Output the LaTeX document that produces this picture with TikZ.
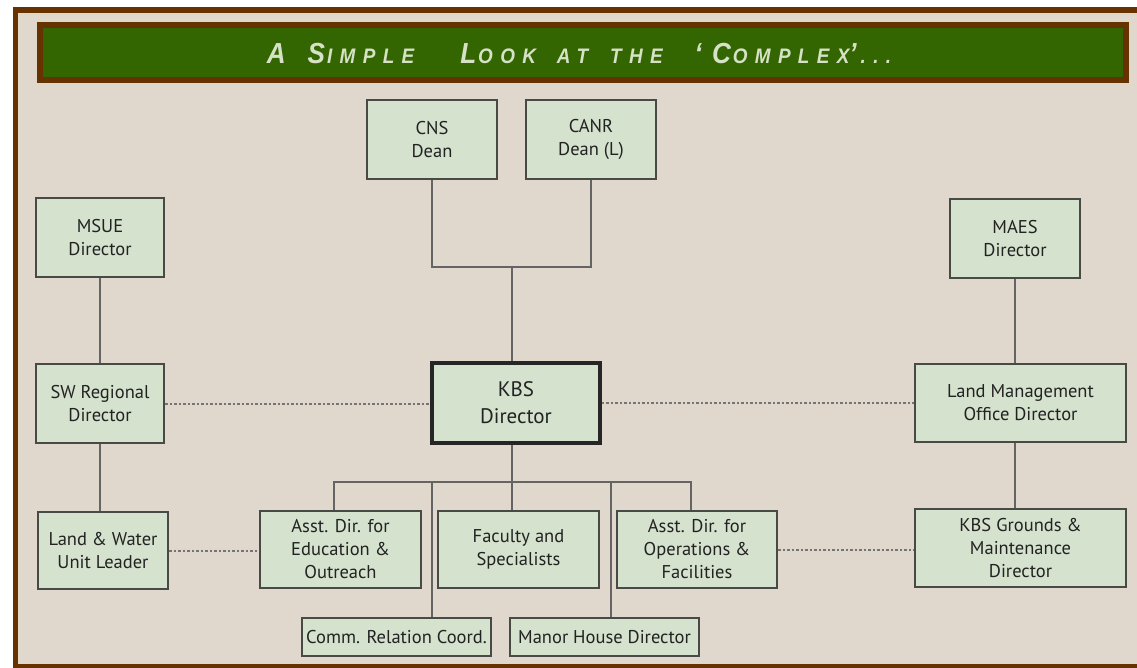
\documentclass[tikz,border=0pt]{standalone}
\usepackage{fontspec}
\setmainfont{PT Sans}
\newfontfamily\titlefont{Liberation Sans}[FakeStretch=0.9, LetterSpace=35]
\usepackage{xcolor}
\definecolor{Brown}{RGB}{102,51,0}
\definecolor{Green}{RGB}{51,102,0}
\definecolor{Sand}{RGB}{224,215,205}
\definecolor{Mint}{RGB}{213,226,206}
\definecolor{Edge}{RGB}{72,74,70}
\definecolor{Wire}{RGB}{100,100,100}
\definecolor{Ink}{RGB}{34,34,34}
\definecolor{Pale}{RGB}{214,226,198}
\newcommand{\lowcap}[1]{{\fontsize{21}{21}\selectfont #1}}
\newcommand{\wordgap}[1]{\hspace{#1pt}}
\usetikzlibrary{positioning}

\begin{document}
\begin{tikzpicture}[x=1pt, y=-1pt,
		unit/.style={draw=Edge, fill=Mint, line width=2pt, align=center, inner sep=0pt,
			text=Ink, font=\fontsize{18.5}{23}\selectfont},
		head/.style={unit, draw=black!85, line width=3.5pt, font=\fontsize{21}{27}\selectfont},
		link/.style={draw=Wire, line width=2pt},
		peer/.style={draw=Wire!90, line width=2pt, dash pattern=on 2.5pt off 2pt}]
		
		% Frame
		\useasboundingbox (0,0) rectangle (1137,668);
		\fill[Brown] (13,7) rectangle (1137,668);
		\fill[Sand] (18,13) rectangle (1137,664);
		
		% Banner
		\filldraw[fill=Green, draw=Brown, line width=6pt] (39.5,25.5) rectangle (1125.5,80);
		\node[text=Pale, font=\titlefont\bfseries\itshape\fontsize{29}{29}\selectfont] (title) at (579,54)
			{A\wordgap{22}S\kern2pt\lowcap{IMPLE}\wordgap{46}L\kern2pt\lowcap{OOK}\wordgap{21}\lowcap{AT}\wordgap{22}\lowcap{THE}\wordgap{32}‘C\kern2pt\lowcap{OMPLEX}’\wordgap{4}\lowcap{...}};
		
		% Deans
		\node[unit, minimum width=130pt, minimum height=79pt] (cns) at (432,139.5) {CNS\\Dean};
		\node[unit, minimum width=130pt, minimum height=79pt] (canr) at (591,139.5) {CANR\\Dean (L)};
		
		% Directors
		\node[unit, minimum width=128pt, minimum height=79pt] (msue) at (100,237.5) {MSUE\\Director};
		\node[unit, minimum width=130pt, minimum height=79pt] (maes) at (1015,238.5) {MAES\\Director};
		\node[unit, minimum width=128pt, minimum height=79pt] (sw) at (100,403.5) {SW Regional\\Director};
		\node[head, minimum width=168pt, minimum height=80pt] (kbs) at (516,403) {KBS\\Director};
		\node[unit, minimum width=211pt, minimum height=78pt] (lmo) at (1020.5,403) {Land Management\\Office Director};
		
		% Units
		\node[unit, minimum width=130pt, minimum height=77pt] (lw) at (103,550.5) {Land \& Water\\Unit Leader};
		\node[unit, minimum width=161pt, minimum height=77pt] (edu) at (340.5,549.5) {Asst. Dir. for\\Education \&\\Outreach};
		\node[unit, minimum width=161pt, minimum height=77pt] (fac) at (518.5,549.5) {Faculty and\\Specialists};
		\node[unit, minimum width=160pt, minimum height=77pt] (ops) at (697,549.5) {Asst. Dir. for\\Operations \&\\Facilities};
		\node[unit, minimum width=211pt, minimum height=78pt] (grounds) at (1020.5,548) {KBS Grounds \&\\Maintenance\\Director};
		\node[unit, minimum width=189pt, minimum height=38pt] (comm) at (396.5,637) {Comm. Relation Coord.};
		\node[unit, minimum width=189pt, minimum height=38pt] (manor) at (604.5,637) {Manor House Director};
		
		% Lines
		\coordinate (deans) at (512,267);
		\coordinate (bus) at (512,482);
		\coordinate (tapedu) at (334,482);
		\coordinate (tapcomm) at (432,482);
		\coordinate (tapmanor) at (611,482);
		\coordinate (tapops) at (691,482);
		
		\draw[link] (cns.south) |- (deans) -| (canr.south);
		\draw[link] (deans) -- (deans |- kbs.north);
		\draw[link] (bus |- kbs.south) -- (bus) -- (bus |- fac.north);
		\draw[link] (tapedu |- edu.north) -- (tapedu) -- (tapops) -- (tapops |- ops.north);
		\draw[link] (tapcomm) -- (tapcomm |- comm.north);
		\draw[link] (tapmanor) -- (tapmanor |- manor.north);
		
		\draw[link] (msue.south) -- (sw.north);
		\draw[link] (sw.south) -- (sw.south |- lw.north);
		\draw[link] (maes.south) -- (maes.south |- lmo.north);
		\draw[link] (maes.south |- lmo.south) -- (maes.south |- grounds.north);
		
		% Dotted
		\draw[peer] (sw.east) -- (sw.east -| kbs.west);
		\draw[peer] (kbs.east) -- (kbs.east -| lmo.west);
		\draw[peer] (lw.east) -- (lw.east -| edu.west);
		\draw[peer] (ops.east) -- (ops.east -| grounds.west);
		
	\end{tikzpicture}
\end{document}
